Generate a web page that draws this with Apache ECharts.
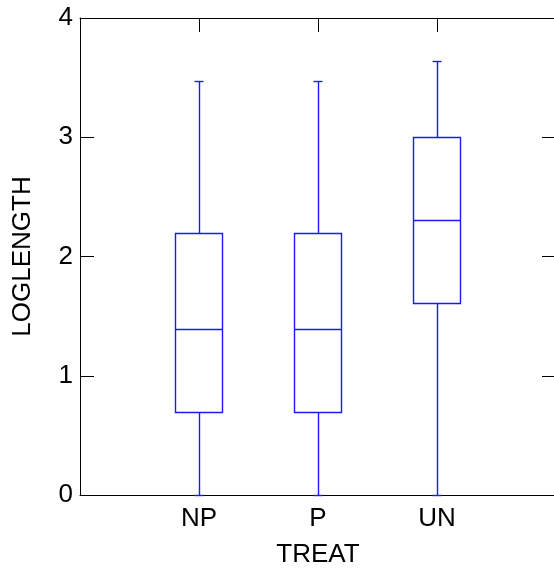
<!DOCTYPE html>
<html>
<head>
<meta charset="utf-8">
<style>html,body{margin:0;padding:0;background:#fff;}#chart{width:554px;height:573px;}</style>
<script src="https://cdn.jsdelivr.net/npm/echarts@6/dist/echarts.min.js"></script>
</head>
<body>
<div id="chart"></div>
<script>
// Data
var categories = ['NP', 'P', 'UN'];
var categoryPositions = [1, 2, 3];
var whiskerLow = [0, 0, 0];
var q1Values = [0.693, 0.693, 1.609];
var medianValues = [1.386, 1.386, 2.303];
var q3Values = [2.197, 2.197, 2.996];
var whiskerHigh = [3.466, 3.466, 3.638];
var yTicks = [0, 1, 2, 3, 4];

var boxData = categories.map(function (c, i) {
  return [categoryPositions[i], whiskerLow[i], q1Values[i], medianValues[i], q3Values[i], whiskerHigh[i]];
});

var chart = echarts.init(document.getElementById('chart'), null, {renderer: 'canvas'});
var FONT = 'Liberation Sans, Arial, sans-serif';
var BLUE = '#1a1aff';
var BOX_W = 0.4;   // in x data units
var CAP_W = 0.08;

function labelFor(v) {
  var idx = categoryPositions.indexOf(v);
  return idx >= 0 ? categories[idx] : '';
}

function axisCommon() {
  return {
    axisLine: {show: true, onZero: false, lineStyle: {color: '#000', width: 1}},
    axisTick: {show: true, inside: true, length: 14, lineStyle: {color: '#000', width: 1}},
    splitLine: {show: false}
  };
}

var option = {
  animation: false,
  backgroundColor: '#fff',
  grid: {left: 80, top: 18, width: 476, height: 477, containLabel: false, outerBoundsMode: 'none'},
  xAxis: [
    Object.assign({
      type: 'value', position: 'bottom', min: 0, max: 4, interval: 1,
      name: 'TREAT', nameLocation: 'middle', nameGap: 47,
      nameTextStyle: {fontFamily: FONT, fontSize: 26, color: '#000'},
      axisLabel: {show: true, formatter: labelFor, fontFamily: FONT, fontSize: 26, color: '#000', margin: 11}
    }, axisCommon()),
    Object.assign({
      type: 'value', position: 'top', min: 0, max: 4, interval: 1,
      axisLabel: {show: false}
    }, axisCommon())
  ],
  yAxis: [
    Object.assign({
      type: 'value', position: 'left', min: yTicks[0], max: yTicks[yTicks.length - 1], interval: 1,
      name: 'LOGLENGTH', nameLocation: 'middle', nameGap: 44, nameRotate: 90,
      nameTextStyle: {fontFamily: FONT, fontSize: 26, color: '#000'},
      axisLabel: {show: true, fontFamily: FONT, fontSize: 26, color: '#000', margin: 7}
    }, axisCommon()),
    Object.assign({
      type: 'value', position: 'right', min: yTicks[0], max: yTicks[yTicks.length - 1], interval: 1,
      axisLabel: {show: false}
    }, axisCommon())
  ],
  series: [{
    type: 'custom',
    xAxisIndex: 0,
    yAxisIndex: 0,
    z: 5,
    data: boxData,
    encode: {x: 0, y: [1, 2, 3, 4, 5]},
    renderItem: function (params, api) {
      var x = api.value(0);
      function snap(v) { return Math.round(v - 0.5) + 0.5; }
      var yLow = snap(api.coord([x, api.value(1)])[1]);
      var yQ1 = snap(api.coord([x, api.value(2)])[1]);
      var yMed = snap(api.coord([x, api.value(3)])[1]);
      var yQ3 = snap(api.coord([x, api.value(4)])[1]);
      var yHigh = snap(api.coord([x, api.value(5)])[1]);
      var cxRaw = api.coord([x, 0])[0];
      var halfBox = api.size([BOX_W, 0])[0] / 2;
      var halfCap = api.size([CAP_W, 0])[0] / 2;
      var cx = snap(cxRaw);
      var xl = snap(cxRaw - halfBox), xr = snap(cxRaw + halfBox);
      var cl = snap(cxRaw - halfCap), cr = snap(cxRaw + halfCap);
      var style = {stroke: BLUE, lineWidth: 1.4, fill: null};
      function line(x1, y1, x2, y2) {
        return {type: 'line', shape: {x1: x1, y1: y1, x2: x2, y2: y2}, style: style};
      }
      return {
        type: 'group',
        children: [
          {type: 'rect', shape: {x: xl, y: yQ3, width: xr - xl, height: yQ1 - yQ3}, style: {stroke: BLUE, lineWidth: 1.4, fill: 'none'}},
          line(xl, yMed, xr, yMed),
          line(cx, yQ3, cx, yHigh),
          line(cx, yQ1, cx, yLow),
          line(cl, yHigh, cr, yHigh),
          line(cl, yLow, cr, yLow)
        ]
      };
    }
  }]
};
chart.setOption(option);
</script>
</body>
</html>
